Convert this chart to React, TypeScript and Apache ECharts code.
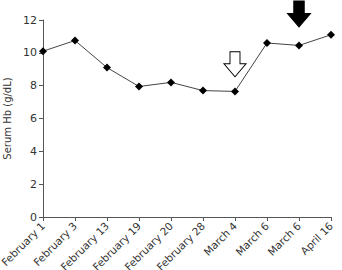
import React, { useEffect, useRef } from "react";
import * as echarts from "echarts";

const categories = ["February 1", "February 3", "February 13", "February 19", "February 20", "February 28", "March 4", "March 6", "March 6", "April 16"];
const hbValues = [10.1, 10.75, 9.1, 7.95, 8.2, 7.7, 7.65, 10.6, 10.45, 11.1];
const yTicks = { min: 0, max: 12, interval: 2 };
const openArrowAt = { index: 6, value: 9.3 };
const filledArrowAt = { index: 8, value: 12 };

const arrowPath = "path://M6,0 L16,0 L16,12 L22,12 L11,25 L0,12 L6,12 Z";

export default function App() {
  const ref = useRef<HTMLDivElement>(null);
  useEffect(() => {
    const chart = echarts.init(ref.current!, null, { renderer: "svg" });
    chart.setOption({
      animation: false,
      grid: { left: 43, right: 11, top: 20, bottom: 53, containLabel: false, outerBoundsMode: "none" },
      xAxis: {
        type: "category",
        data: categories,
        boundaryGap: false,
        axisLine: { lineStyle: { color: "#555", width: 1 } },
        axisTick: { show: true, alignWithLabel: true, length: 4, lineStyle: { color: "#555" } },
        axisLabel: {
          rotate: 45,
          interval: 0,
          color: "#333",
          fontSize: 10.5,
          fontFamily: "DejaVu Sans",
          margin: 7,
        },
      },
      yAxis: {
        type: "value",
        min: yTicks.min,
        max: yTicks.max,
        interval: yTicks.interval,
        name: "Serum Hb (g/dL)",
        nameLocation: "middle",
        nameGap: 30,
        nameTextStyle: { color: "#333", fontSize: 10, fontFamily: "DejaVu Sans" },
        axisLine: { show: true, lineStyle: { color: "#555", width: 1 } },
        axisTick: { show: true, length: 4, lineStyle: { color: "#555" } },
        splitLine: { show: false },
        axisLabel: { color: "#333", fontSize: 11, fontFamily: "DejaVu Sans", margin: 6 },
      },
      series: [
        {
          type: "line",
          data: hbValues,
          symbol: "diamond",
          symbolSize: 8,
          itemStyle: { color: "#000" },
          lineStyle: { color: "#444", width: 1 },
          markPoint: {
            silent: true,
            label: { show: false },
            data: [
              {
                coord: [openArrowAt.index, openArrowAt.value],
                symbol: arrowPath,
                symbolSize: [22, 25],
                itemStyle: { color: "#fff", borderColor: "#000", borderWidth: 1 },
              },
              {
                coord: [filledArrowAt.index, filledArrowAt.value],
                symbol: arrowPath,
                symbolSize: [23, 26],
                symbolOffset: [0, -6],
                itemStyle: { color: "#000", borderColor: "#000", borderWidth: 1 },
              },
            ],
          },
        },
      ],
    });
    return () => chart.dispose();
  }, []);
  return <div ref={ref} style={{ width: 342, height: 270, position: "absolute", left: 0, top: 0 }} />;
}
